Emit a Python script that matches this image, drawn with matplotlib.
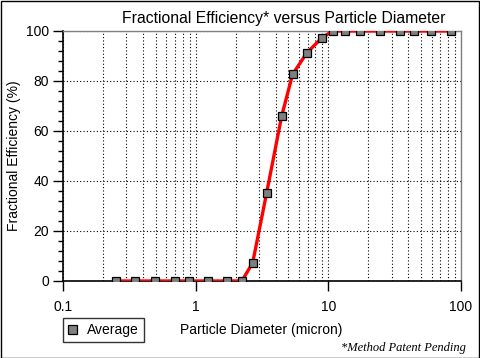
import numpy as np
import matplotlib.pyplot as plt
from matplotlib.ticker import LogLocator, FixedLocator, NullFormatter, FuncFormatter

# particle diameter (micron) and fractional efficiency (%)
diameter = [0.25, 0.35, 0.49, 0.70, 0.89, 1.24, 1.72, 2.23, 2.69, 3.43,
            4.45, 5.38, 6.9, 8.95, 10.8, 13.3, 17.3, 24.5, 34.6, 44.2, 59.3, 83.9]
efficiency = [0, 0, 0, 0, 0, 0, 0, 0, 7.3, 35.3,
              66, 82.7, 91.3, 97.3, 100, 100, 100, 100, 100, 100, 100, 100]

plt.rcParams['font.family'] = ['Liberation Sans', 'DejaVu Sans']

W, H = 480, 358
fig = plt.figure(figsize=(W / 100, H / 100), dpi=100)
ax = fig.add_axes([63 / W, 1 - 281 / H, (461 - 63) / W, (281 - 31) / H])

ax.plot(diameter, efficiency, color='#ff0000', lw=2.4, zorder=3,
        solid_joinstyle='round')
ax.plot(diameter, efficiency, ls='none', marker='s', ms=5.4,
        mfc='#808080', mec='black', mew=0.9, zorder=4, label='Average')

ax.set_xscale('log')
ax.set_xlim(0.1, 100)
ax.set_ylim(0, 100)

ax.xaxis.set_major_locator(LogLocator(base=10, numticks=10))
ax.xaxis.set_minor_locator(LogLocator(base=10, subs=np.arange(2, 10), numticks=10))
ax.xaxis.set_major_formatter(FuncFormatter(lambda v, p: f'{v:g}'))
ax.xaxis.set_minor_formatter(NullFormatter())
ax.set_yticks([0, 20, 40, 60, 80, 100])
ax.yaxis.set_minor_locator(FixedLocator(np.arange(0, 101, 4)))

ax.grid(True, which='both', axis='x', color='black', ls=(0, (1, 2)), lw=0.8)
ax.grid(True, which='major', axis='y', color='black', ls=(0, (1, 2)), lw=0.8)

ax.tick_params(axis='both', which='major', direction='out', length=7,
               width=1, labelsize=10, color='black')
ax.tick_params(axis='x', which='minor', length=0)
ax.tick_params(axis='y', which='minor', direction='out', length=3.5, width=1)
ax.tick_params(axis='x', pad=7)
ax.tick_params(axis='y', pad=3)

for side in ['left', 'bottom']:
    ax.spines[side].set_color('black')
    ax.spines[side].set_linewidth(1.2)
for side in ['top', 'right']:
    ax.spines[side].set_color('#808080')
    ax.spines[side].set_linewidth(1)

fig.text(284 / W, 1 - 18 / H, 'Fractional Efficiency* versus Particle Diameter',
         ha='center', va='center', fontsize=11.3)
fig.text(14 / W, 1 - 156 / H, 'Fractional Efficiency (%)', rotation=90,
         ha='center', va='center', fontsize=10)
fig.text(261 / W, 1 - 330 / H, 'Particle Diameter (micron)',
         ha='center', va='center', fontsize=10)
fig.text(466 / W, 1 - 348 / H, '*Method Patent Pending', ha='right',
         va='center', fontsize=9, style='italic', family='Liberation Serif')

leg = fig.legend(loc='center left', bbox_to_anchor=(63 / W, 1 - 330 / H),
                 frameon=True, fancybox=False, edgecolor='black',
                 fontsize=10, handlelength=0.6, handletextpad=0.8,
                 borderpad=0.35, borderaxespad=0, markerscale=1.2)
leg.get_frame().set_linewidth(1)

fig.patches.append(plt.Rectangle((0.5 / W, 0.5 / H), 1 - 1.5 / W, 1 - 1.5 / H,
                                 transform=fig.transFigure, fill=False,
                                 edgecolor='black', lw=1))

fig.savefig('out.png', dpi=100)
